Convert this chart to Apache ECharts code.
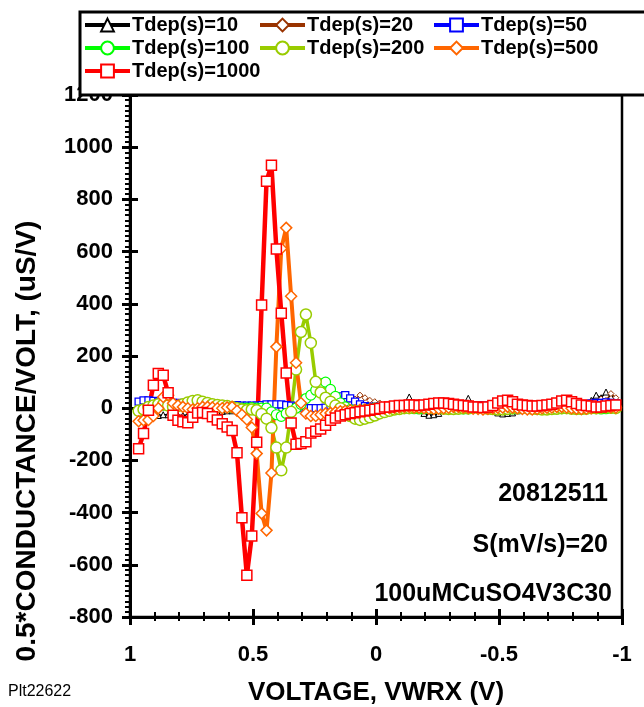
<!DOCTYPE html>
<html>
<head>
<meta charset="utf-8">
<script src="https://cdn.jsdelivr.net/npm/echarts@6/dist/echarts.min.js"></script>
<style>html,body{margin:0;padding:0;background:#fff;}#c{width:644px;height:707px;}</style>
</head>
<body>
<div id="c"></div>
<script>
// Voltage sweep (V), shared by all series
const voltage = [0.965,0.945,0.925,0.905,0.885,0.865,0.845,0.825,0.805,0.785,
0.765,0.745,0.725,0.705,0.685,0.665,0.645,0.625,0.605,0.585,
0.565,0.545,0.525,0.505,0.485,0.465,0.445,0.425,0.405,0.385,
0.365,0.345,0.325,0.305,0.285,0.265,0.245,0.225,0.205,0.185,
0.165,0.145,0.125,0.105,0.085,0.065,0.045,0.025,0.005,-0.015,
-0.035,-0.055,-0.075,-0.095,-0.115,-0.135,-0.155,-0.175,-0.195,-0.215,
-0.235,-0.255,-0.275,-0.295,-0.315,-0.335,-0.355,-0.375,-0.395,-0.415,
-0.435,-0.455,-0.475,-0.495,-0.515,-0.535,-0.555,-0.575,-0.595,-0.615,
-0.635,-0.655,-0.675,-0.695,-0.715,-0.735,-0.755,-0.775,-0.795,-0.815,
-0.835,-0.855,-0.875,-0.895,-0.915,-0.935,-0.955,-0.975];

const tdep10 = [-10,-20,-25,-28,-28,-25,-25,-25,-28,-28,
-25,-22,-20,-20,-18,-15,-15,-12,-10,-10,
-8,-8,-5,-5,-5,-3,-3,-2,-2,0,
0,0,2,2,0,0,2,3,3,2,
0,0,2,3,3,2,0,5,0,5,
10,5,10,15,20,43,15,0,-20,-27,
-25,-20,-5,5,10,15,20,38,15,5,
0,-5,-10,-18,-22,-20,-18,-10,0,5,
10,15,10,5,10,15,10,5,0,5,
15,20,30,50,40,62,45,30];

const tdep20 = [5,8,10,10,8,5,5,5,5,5,
5,5,5,3,3,3,2,2,2,0,
0,0,-2,-3,-5,-5,-5,-5,-5,-3,
-3,-3,-2,0,0,2,3,5,5,5,
5,8,10,15,35,50,40,30,25,20,
15,10,10,10,12,15,12,10,8,8,
10,12,12,10,10,12,15,12,10,8,
8,10,10,12,10,8,8,10,12,15,
12,10,10,12,15,12,10,10,12,15,
15,18,20,20,35,30,56,40];

const tdep50 = [25,30,30,28,25,22,20,20,20,18,
15,15,15,15,15,15,15,12,12,12,
12,10,10,10,10,12,15,15,15,15,
12,10,5,2,0,0,0,0,2,10,
30,45,50,38,25,15,8,5,5,5,
5,8,10,10,12,12,10,10,8,8,
10,12,12,10,10,8,8,10,12,12,
10,10,8,8,10,12,12,10,10,8,
8,10,12,12,10,10,12,15,15,12,
12,15,18,20,20,22,20,18];

const tdep100 = [-10,-5,0,5,10,12,10,8,8,10,
12,12,10,10,8,8,5,5,5,3,
0,0,0,2,0,0,0,-14,-25,-31,
-20,-14,0,15,37,50,69,94,100,72,
45,20,5,-5,-8,-8,-5,-3,0,0,
2,3,3,2,0,0,-2,-3,-2,0,
2,3,3,2,0,-2,-3,-3,0,2,
3,3,2,0,-2,-3,-3,-2,0,2,
3,3,2,0,-2,-3,-2,0,2,3,
3,2,0,-2,-3,-2,0,2];

const tdep200 = [-10,-5,5,10,15,15,10,5,8,15,
22,28,30,25,20,15,12,10,8,5,
0,-5,-8,-5,-8,-22,-40,-75,-151,-238,
-151,-14,148,292,359,250,101,60,40,25,
10,0,-15,-30,-40,-45,-40,-35,-28,-20,
-15,-10,-5,-3,0,0,2,3,3,2,
0,0,-2,-3,-3,-2,0,0,2,2,
0,-2,-3,-5,-5,-3,0,0,2,0,
-2,-3,-5,-5,-3,-2,0,0,-2,-3,
-3,-2,0,0,2,3,2,0];

const tdep500 = [-50,-46,-45,-30,0,43,50,19,10,5,
0,-5,0,5,5,3,0,0,3,5,
-10,-25,-43,-74,-174,-403,-468,-248,235,612,
691,429,174,20,-20,-30,-30,-25,-20,-18,
-15,-12,-10,-8,-8,-6,-5,-5,-3,-2,
0,0,2,3,5,5,3,2,0,-2,
-3,-2,0,2,5,5,3,0,-2,-3,
-5,-3,0,2,3,5,3,0,-3,-5,
-5,-3,0,2,3,5,5,3,0,-2,
-3,-2,0,2,5,5,3,2];

const tdep1000 = [-155,-97,-8,88,133,126,59,-27,-46,-52,
-56,-35,-18,-16,-20,-33,-45,-60,-72,-85,
-171,-420,-640,-490,-130,395,870,931,610,364,
135,-57,-138,-135,-129,-95,-88,-80,-65,-46,
-38,-30,-25,-20,-17,-14,-11,-8,-4,-1,
5,5,8,10,10,12,12,10,12,15,
18,20,20,18,15,12,10,8,5,5,
3,5,10,20,28,30,25,15,12,10,
8,8,10,12,15,20,28,30,25,18,
12,10,8,5,5,8,10,12];

const xTicks = [1, 0.5, 0, -0.5, -1];
const yTicks = [-800,-600,-400,-200,0,200,400,600,800,1000,1200];

const FONT = "'Liberation Sans', Arial, sans-serif";

function pairs(vals){ return voltage.map((v,i)=>[v, vals[i]]); }

function mkSeries(name, vals, color, symbol, size, lw, bw){
  return {
    name: name, type: 'line', data: pairs(vals),
    symbol: symbol, symbolSize: size, showSymbol: true, showAllSymbol: true,
    lineStyle: {color: color, width: lw, join: 'round'},
    itemStyle: {color: '#ffffff', borderColor: color, borderWidth: bw},
    emphasis: {disabled: true}, z: 2
  };
}

const series = [
  mkSeries('Tdep(s)=10', tdep10, '#000000', 'triangle', 6, 1.5, 1),
  mkSeries('Tdep(s)=20', tdep20, '#993300', 'diamond', 6, 1.5, 1),
  mkSeries('Tdep(s)=50', tdep50, '#0000ff', 'rect', 7, 2, 1.3),
  mkSeries('Tdep(s)=100', tdep100, '#00ff00', 'circle', 10, 2, 1.2),
  mkSeries('Tdep(s)=200', tdep200, '#99cc00', 'circle', 11, 3.5, 1.5),
  mkSeries('Tdep(s)=500', tdep500, '#ff6600', 'diamond', 11, 4, 1.5),
  mkSeries('Tdep(s)=1000', tdep1000, '#ff0000', 'rect', 10, 4.5, 1.5)
];

function legend(left, names){
  return {
    show: true, orient: 'vertical', left: left, top: 15, z: 20, padding: 0,
    itemWidth: 45, itemHeight: 16, itemGap: 3,
    data: names, selectedMode: false,
    lineStyle: {width: 4},
    textStyle: {fontFamily: FONT, fontWeight: 'bold', fontSize: 20, lineHeight: 16, color: '#000', padding: [0,0,0,-3]}
  };
}

const tickFmt = v => String(v);

const chart = echarts.init(document.getElementById('c'), null, {renderer: 'canvas'});
chart.setOption({
  animation: false,
  backgroundColor: '#ffffff',
  grid: {left: 130, right: 22, top: 95, bottom: 90, show: true, borderColor: '#000', borderWidth: 2.5, backgroundColor: 'transparent'},
  legend: [
    legend(83, ['Tdep(s)=10', 'Tdep(s)=100', 'Tdep(s)=1000']),
    legend(258, ['Tdep(s)=20', 'Tdep(s)=200']),
    legend(432, ['Tdep(s)=50', 'Tdep(s)=500'])
  ],
  xAxis: [
    {type: 'value', min: -1, max: 1, interval: 0.5, inverse: true,
     axisLine: {show: true, onZero: false, lineStyle: {color: '#000', width: 3}},
     axisTick: {show: true, length: 8, lineStyle: {color: '#000', width: 3}},
     minorTick: {show: true, splitNumber: 5, length: 4, lineStyle: {color: '#000', width: 2}},
     splitLine: {show: false},
     axisLabel: {margin: 27, fontFamily: FONT, fontWeight: 'bold', fontSize: 22, color: '#000',
       formatter: v => xTicks.includes(v) ? tickFmt(v) : ''}},
    {type: 'value', min: -1, max: 1, interval: 0.5, inverse: true, position: 'bottom',
     axisLine: {show: false, onZero: false},
     axisTick: {show: true, inside: true, length: 8, lineStyle: {color: '#000', width: 3}},
     minorTick: {show: true, splitNumber: 5, length: 5, lineStyle: {color: '#000', width: 2}},
     splitLine: {show: false}, axisLabel: {show: false}}
  ],
  yAxis: [
    {type: 'value', min: -800, max: 1200, interval: 200,
     axisLine: {show: true, onZero: false, lineStyle: {color: '#000', width: 3}},
     axisTick: {show: true, length: 8, lineStyle: {color: '#000', width: 3}},
     minorTick: {show: true, splitNumber: 10, length: 5, lineStyle: {color: '#000', width: 2}},
     splitLine: {show: false},
     axisLabel: {margin: 17, fontFamily: FONT, fontWeight: 'bold', fontSize: 22, color: '#000',
       formatter: v => yTicks.includes(v) ? tickFmt(v) : ''}},
    {type: 'value', min: -800, max: 1200, interval: 200, position: 'left',
     axisLine: {show: false, onZero: false},
     axisTick: {show: true, inside: true, length: 8, lineStyle: {color: '#000', width: 3}},
     splitLine: {show: false}, axisLabel: {show: false}}
  ],
  series: series,
  graphic: [
    {type: 'rect', z: 10, shape: {x: 80, y: 12, width: 620, height: 83},
     style: {fill: '#ffffff', stroke: '#000', lineWidth: 3}},
    {type: 'text', z: 30, x: 27, y: 441, rotation: Math.PI/2,
     style: {text: '0.5*CONDUCTANCE/VOLT, (uS/V)', fontFamily: FONT, fontWeight: 'bold', fontSize: 28,
       fill: '#000', align: 'center', verticalAlign: 'middle'}},
    {type: 'text', z: 30, x: 376, y: 693,
     style: {text: 'VOLTAGE, VWRX (V)', fontFamily: FONT, fontWeight: 'bold', fontSize: 26,
       fill: '#000', align: 'center', verticalAlign: 'middle'}},
    {type: 'text', z: 30, x: 608, y: 494,
     style: {text: '20812511', fontFamily: FONT, fontWeight: 'bold', fontSize: 25, fill: '#000', align: 'right', verticalAlign: 'middle'}},
    {type: 'text', z: 30, x: 608, y: 545,
     style: {text: 'S(mV/s)=20', fontFamily: FONT, fontWeight: 'bold', fontSize: 25, fill: '#000', align: 'right', verticalAlign: 'middle'}},
    {type: 'text', z: 30, x: 612, y: 594,
     style: {text: '100uMCuSO4V3C30', fontFamily: FONT, fontWeight: 'bold', fontSize: 25, fill: '#000', align: 'right', verticalAlign: 'middle'}},
    {type: 'text', z: 30, x: 8, y: 692,
     style: {text: 'Plt22622', fontFamily: FONT, fontSize: 16, fill: '#000', align: 'left', verticalAlign: 'middle'}}
  ]
});
</script>
</body>
</html>
